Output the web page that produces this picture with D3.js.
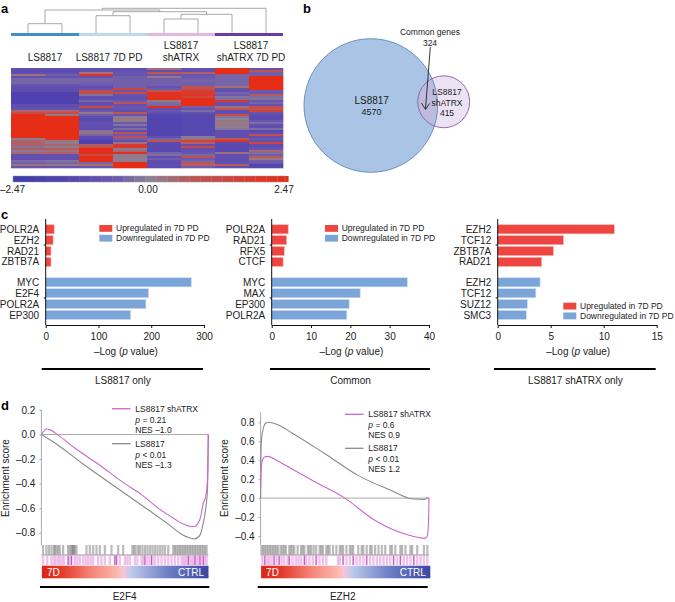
<!DOCTYPE html>
<html>
<head>
<meta charset="utf-8">
<style>
    body { margin: 0; background: #fff; }
    svg { display: block; }
    text { font-family: "Liberation Sans", Arial, sans-serif; fill: #222; }
</style>
<script src="https://cdn.jsdelivr.net/npm/d3@7"></script>
</head>
<body>
<svg id="chart" width="675" height="602"></svg>
<script>
// panel a: heatmap columns, top to bottom
const heatCol1 = [-1,-1.2,-1,0.3,-0.9,-0.4,-0.4,-0.4,-0.8,-1,-1,-1,-1.6,-1.6,-1.6,-1.6,-1.6,-1.6,-1.1,-1.1,-0.8,0.6,1.2,2.47,2.47,2.47,2.47,2.47,2.47,2.47,2.47,2.47,2.47,2.47,2.47,0.1,0.5,0.6,0.6,-0.2,0.7,-0.1,0.5,-1,-1,-1,-0.3,-0.5,0.3,-0.8];
const heatCol2 = [-1,-1.2,-1,-0.5,-0.9,-0.4,-0.4,-0.4,-0.8,-1,-1,-1,-1.6,-1.6,-1.6,-1.6,-1.6,-1.6,-1.1,-1.1,-0.8,0.6,1,0.2,2.47,2.47,2.47,2.47,2.47,2.47,2.47,2.47,2.47,2.47,2.47,2.2,0.2,0.1,0.5,0.1,0.7,0.3,0.6,-0.9,-1,-1,-0.2,-0.4,0.2,-0.8];
const heatCol3 = [-1,-0.9,0.3,2.2,-0.9,-0.4,-0.4,-0.5,-0.6,-1,-0.8,1.2,1,-0.2,-1,-1.1,-0.4,-1,-0.9,1.4,-1,-0.6,0.2,-0.5,-1,-1.3,-1.2,-0.9,-1,-1,-1.1,-0.2,0.3,-0.4,-1.2,-1.3,-1.6,-1.6,0.7,0.9,2.47,2.47,2.47,1.2,2.47,2.47,2.47,-0.4,0.4,-0.7];
const heatCol4 = [-1.1,-0.9,-0.8,-0.8,-0.5,-0.5,-0.5,-0.5,-0.5,-0.5,1.5,-0.7,1.3,-0.8,-0.9,-0.9,-0.6,0.8,-0.9,-0.7,-0.8,-1,0.9,-0.8,-0.1,0.2,0.1,-0.6,-0.2,-0.9,-0.3,-1,0.9,-0.6,1,-0.5,-0.9,0.3,2,2,-0.1,0.5,2.4,-0.1,0.1,0.1,0.1,2.47,2.47,2.47];
const heatCol5 = [0.4,-1,0.8,-0.8,0.2,-0.5,-0.5,-0.5,-0.5,-0.9,-0.6,0.9,2.2,2.2,2.3,2.3,0.2,-0.3,-0.4,2.47,-1,-0.7,-1.1,-1.5,-1.5,-1.5,-1.5,-1.5,-1.5,-1.5,-1.5,-1.5,-1.5,-1.5,-0.9,-0.4,0.9,-1.2,-1.3,-1.3,-1.3,-1.3,-0.4,-0.3,-1,-0.5,-1.1,-1.2,-1,-1.2];
const heatCol6 = [-0.9,-1,0.6,-0.7,-0.6,-0.5,-0.4,-0.5,-0.5,0.9,1,1.8,2,2,1.5,2.47,2.47,2.47,2.47,-0.5,-0.8,-0.3,-0.9,-1.3,-1.3,-1.3,-1.3,-1.3,-1.3,-1.3,-1.3,-1.3,-1.3,-1.3,-0.1,0.3,1.6,0.6,-1,1.3,-1,-0.9,-0.7,-0.4,1,-0.6,-0.4,0.8,0.6,-0.5];
const heatCol7 = [2.47,2.47,2.47,-0.4,-0.4,-0.4,-0.4,-0.4,-0.4,0.4,-0.9,-1,-0.4,-0.6,-0.2,-0.3,2.1,-0.9,-0.9,0.3,0.8,-1,-1,1.2,-0.2,0,0.2,0.1,0.2,0.1,-0.2,-1.1,-1,-1,-0.9,0.8,2.2,-1.2,-1.3,-1.3,-1.3,-1.3,0.3,-1.1,-0.9,-1,-1.1,-1,0.7,-1];
const heatCol8 = [-0.9,0.9,-0.5,-0.5,2.47,2.47,2.47,2.47,2.47,2.47,2.47,-0.6,-0.7,0.7,-0.3,-0.2,-0.7,-0.4,-0.9,1.2,0.9,1.7,-0.8,-1.1,-1.2,-1.2,-0.7,-0.3,-0.9,-1,-0.3,-1.3,-1.1,1,-1,-0.7,-0.9,1.5,-1.1,-1,-0.8,0.5,-0.3,-0.5,0.7,0.2,-0.5,-0.6,-1.5,-1.3];
const heatColumns = [heatCol1, heatCol2, heatCol3, heatCol4, heatCol5, heatCol6, heatCol7, heatCol8];

const heatGroups = ["g1", "g2", "g3", "g4"];
const groupColors = ["#3f8fc6", "#bcd9ee", "#e6b6e0", "#6a3aa6"];

// dendrogram merges: [left node, right node, height]; nodes 0-7 are the columns
const dendroMerges = [
    [0, 1, 9.3],
    [2, 3, 17.3],
    [4, 5, 14],
    [10, 6, 18.7],
    [9, 11, 21.3],
    [8, 12, 23],
    [13, 7, 24.7],
];

// panel b
const vennOnlyLS = 4570;
const vennOnlyShATRX = 415;
const vennCommon = 324;

// panel c
const panel1UpNames = ["POLR2A", "EZH2", "RAD21", "ZBTB7A"];
const panel1UpValues = [16, 14, 10, 10];
const panel1DownNames = ["MYC", "E2F4", "POLR2A", "EP300"];
const panel1DownValues = [276, 195, 190, 161];
const panel1Ticks = [0, 100, 200, 300];

const panel2UpNames = ["POLR2A", "RAD21", "RFX5", "CTCF"];
const panel2UpValues = [4.2, 3.8, 3.2, 2.9];
const panel2DownNames = ["MYC", "MAX", "EP300", "POLR2A"];
const panel2DownValues = [34.5, 22.5, 19.7, 19.1];
const panel2Ticks = [0, 10, 20, 30, 40];

const panel3UpNames = ["EZH2", "TCF12", "ZBTB7A", "RAD21"];
const panel3UpValues = [11, 6.2, 5.25, 4.15];
const panel3DownNames = ["EZH2", "TCF12", "SUZ12", "SMC3"];
const panel3DownValues = [4, 3.6, 2.8, 2.7];
const panel3Ticks = [0, 5, 10, 15];

// panel d: [rank fraction, enrichment score]
const e2f4Pink = [[0,0],[0.016,0.03],[0.032,0.047],[0.05,0.04],[0.1,-0.005],[0.2,-0.11],[0.35,-0.25],[0.5,-0.4],[0.6,-0.49],[0.7,-0.6],[0.8,-0.69],[0.85,-0.73],[0.9,-0.75],[0.915,-0.75],[0.95,-0.69],[0.97,-0.56],[0.985,-0.5],[0.992,-0.43],[0.997,-0.3],[1,0]];
const e2f4Grey = [[0,0],[0.1,-0.087],[0.25,-0.24],[0.5,-0.48],[0.75,-0.72],[0.85,-0.82],[0.92,-0.85],[0.95,-0.82],[0.97,-0.72],[0.985,-0.6],[0.995,-0.45],[1,0]];
const ezh2Pink = [[0,0.1],[0.002,0.27],[0.008,0.38],[0.02,0.43],[0.04,0.44],[0.105,0.39],[0.184,0.31],[0.33,0.165],[0.5,0],[0.68,-0.237],[0.877,-0.39],[0.976,-0.425],[0.99,-0.4],[0.996,-0.3],[1,0]];
const ezh2Grey = [[0,0],[0.002,0.45],[0.006,0.63],[0.012,0.7],[0.03,0.79],[0.046,0.8],[0.095,0.78],[0.184,0.69],[0.38,0.47],[0.578,0.24],[0.776,0.08],[0.895,-0.007],[0.974,-0.014],[0.99,0.004],[1,0]];

const e2f4GreyHits = [0.01,0.03,0.045,0.06,0.075,0.08,0.09,0.1,0.11,0.13,0.16,0.17,0.18,0.185,0.19,0.195,0.2,0.21,0.27,0.29,0.31,0.33,0.35,0.38,0.42,0.46,0.49,0.545,0.555,0.565,0.58,0.59,0.605,0.62,0.635,0.65,0.665,0.68,0.695,0.71,0.725,0.74,0.76,0.79,0.8,0.81,0.82,0.83,0.84,0.85,0.86,0.87,0.88,0.89,0.9,0.91,0.92,0.93,0.94,0.95,0.96,0.97,0.98,0.99];
const e2f4PinkHits = [0.01,0.035,0.06,0.075,0.085,0.1,0.11,0.125,0.135,0.16,0.17,0.18,0.2,0.215,0.23,0.25,0.265,0.28,0.295,0.31,0.34,0.36,0.38,0.41,0.44,0.45,0.47,0.5,0.515,0.53,0.56,0.575,0.6,0.61,0.62,0.635,0.65,0.665,0.68,0.7,0.72,0.74,0.76,0.78,0.8,0.82,0.84,0.85,0.86,0.87,0.88,0.89,0.9,0.91,0.92,0.93,0.94,0.95,0.96,0.97,0.98,0.99];
const e2f4PinkStrong = [0.16,0.18,0.44,0.45,0.62,0.66,0.88,0.92,0.95,0.97];
const ezh2GreyHits = [0.005,0.015,0.025,0.035,0.045,0.055,0.065,0.075,0.085,0.095,0.105,0.12,0.13,0.14,0.15,0.17,0.18,0.19,0.2,0.22,0.24,0.25,0.26,0.28,0.29,0.3,0.315,0.33,0.35,0.36,0.37,0.39,0.4,0.41,0.43,0.45,0.47,0.48,0.49,0.51,0.53,0.54,0.55,0.58,0.6,0.61,0.63,0.65,0.66,0.68,0.7,0.72,0.74,0.77,0.78,0.8,0.83,0.84,0.86,0.89,0.9,0.93,0.97,0.99];
const ezh2PinkHits = [0.01,0.025,0.04,0.05,0.065,0.08,0.095,0.11,0.125,0.14,0.16,0.17,0.19,0.21,0.225,0.24,0.26,0.27,0.29,0.31,0.33,0.35,0.37,0.39,0.46,0.47,0.49,0.51,0.53,0.55,0.57,0.59,0.61,0.63,0.65,0.67,0.69,0.71,0.73,0.75,0.77,0.79,0.81,0.83,0.85,0.87,0.89,0.91,0.93,0.95,0.97,0.99];
const ezh2PinkStrong = [0.025,0.08,0.11,0.17,0.26,0.33,0.49,0.55,0.63,0.79,0.83,0.91];

const rankGradientOffsets = [0, 0.12, 0.3, 0.45, 0.49, 0.54, 0.75, 1];
const rankGradientColors = ["#dd2418", "#e33a2a", "#f4867a", "#fdb6aa", "#f5c6dc", "#bcc9ec", "#6f80c6", "#3a46a4"];

const upColor = "#ee4540";
const downColor = "#7ba4d8";
const pinkLine = "#c967cc";
const greyLine = "#8a8a8a";

const svg = d3.select("#chart");
const defs = svg.append("defs");

const addText = (x, y, str, opts = {}) =>
    svg.append("text")
        .attr("x", x)
        .attr("y", y)
        .attr("text-anchor", opts.anchor || "middle")
        .attr("font-size", opts.size || 10)
        .attr("font-weight", opts.weight || null)
        .style("fill", opts.fill || null)
        .text(str);

// "p = 0.21" style lines with the p in italics
const addPText = (x, y, rest, size) => {
    const t = svg.append("text").attr("x", x).attr("y", y).attr("font-size", size);
    t.append("tspan").attr("font-style", "italic").text("p");
    t.append("tspan").text(rest);
};

[["a", 1, 13], ["b", 303, 13], ["c", 1, 219], ["d", 1, 410]].forEach(([s, x, y]) =>
    addText(x, y, s, { anchor: "start", size: 13, weight: "bold" }).style("fill", "#000")
);

// ---------- panel a ----------
const heatX = d3.scaleBand().domain(d3.range(heatColumns.length)).range([11, 283]);
const heatY = d3.scaleBand().domain(d3.range(heatCol1.length)).range([68, 168]);
const heatColor = d3.scaleLinear()
    .domain([-2.47, -1.5, -0.6, 0, 0.8, 2.47])
    .range(["#3c3ca8", "#5244b0", "#6c58b0", "#8b8295", "#bd5555", "#e62d18"]);

defs.append("filter").attr("id", "soften")
    .attr("x", 0).attr("y", 0).attr("width", 1).attr("height", 1)
    .append("feGaussianBlur").attr("stdDeviation", 0.4);

const heatLayer = svg.append("g").attr("filter", "url(#soften)");
heatColumns.forEach((col, c) => {
    heatLayer.append("g")
        .selectAll("rect")
        .data(col)
        .enter()
        .append("rect")
        .attr("x", heatX(c))
        .attr("y", (d, r) => heatY(r))
        .attr("width", heatX.bandwidth() + 0.3)
        .attr("height", heatY.bandwidth() + 0.3)
        .attr("fill", (d) => heatColor(d));
});

const groupX = d3.scaleBand().domain(heatGroups).range([11, 283]);
svg.append("g")
    .selectAll("rect")
    .data(heatGroups)
    .enter()
    .append("rect")
    .attr("x", (d) => groupX(d))
    .attr("y", 33)
    .attr("width", groupX.bandwidth())
    .attr("height", 3)
    .attr("fill", (d, i) => groupColors[i]);

// dendrogram
const dendroY = d3.scaleLinear().domain([0, 25]).range([33, 8]);
const dendroNodes = d3.range(heatColumns.length).map((i) => ({
    x: heatX(i) + heatX.bandwidth() / 2,
    h: 0,
}));
dendroMerges.forEach(([a, b, h]) => {
    const l = dendroNodes[a];
    const r = dendroNodes[b];
    svg.append("path")
        .attr("d", `M${l.x},${dendroY(l.h)}V${dendroY(h)}H${r.x}V${dendroY(r.h)}`)
        .attr("fill", "none")
        .attr("stroke", "#a8a8a8")
        .attr("stroke-width", 1);
    dendroNodes.push({ x: (l.x + r.x) / 2, h: h });
});

addText(45, 61, "LS8817");
addText(109, 61, "LS8817 7D PD");
addText(181, 49, "LS8817");
addText(181, 61, "shATRX");
addText(251, 49, "LS8817");
addText(251, 61, "shATRX 7D PD");

// colour bar
const barScale = d3.scaleLinear().domain([-2.47, 2.47]).range([13, 285]);
const barStops = d3.range(-2.47, 2.47, 0.2);
svg.append("g")
    .selectAll("rect")
    .data(barStops)
    .enter()
    .append("rect")
    .attr("x", (d) => barScale(d))
    .attr("y", 176)
    .attr("width", barScale(0.2) - barScale(0) + 0.3)
    .attr("height", 6)
    .attr("fill", (d) => heatColor(d + 0.1));
svg.append("rect")
    .attr("x", 13).attr("y", 176).attr("width", 272).attr("height", 6)
    .attr("fill", "none").attr("stroke", "#999").attr("stroke-width", 0.5);
addText(12.5, 193, "–2.47");
addText(148, 193, "0.00");
addText(284, 193, "2.47");

// ---------- panel b ----------
const vennR = d3.scaleSqrt().domain([0, vennOnlyLS + vennCommon]).range([0, 66.8]);
const bigR = vennR(vennOnlyLS + vennCommon);
const smallR = vennR(vennOnlyShATRX + vennCommon);

defs.append("clipPath").attr("id", "bigClip")
    .append("circle").attr("cx", 370.8).attr("cy", 105.5).attr("r", bigR);

svg.append("circle").attr("cx", 370.8).attr("cy", 105.5).attr("r", bigR).attr("fill", "#a9c4e4");
svg.append("circle").attr("cx", 443.7).attr("cy", 101.8).attr("r", smallR).attr("fill", "#ebe2f3");
svg.append("circle").attr("cx", 443.7).attr("cy", 101.8).attr("r", smallR)
    .attr("fill", "#bdbcdf").attr("clip-path", "url(#bigClip)");
svg.append("circle").attr("cx", 370.8).attr("cy", 105.5).attr("r", bigR)
    .attr("fill", "none").attr("stroke", "#5f88b8").attr("stroke-width", 0.9);
svg.append("circle").attr("cx", 443.7).attr("cy", 101.8).attr("r", smallR)
    .attr("fill", "none").attr("stroke", "#8a5a9f").attr("stroke-width", 0.9);

addText(371.7, 104, "LS8817");
addText(371.5, 114.5, String(vennOnlyLS), { size: 9 });
addText(447, 95, "LS8817", { size: 8.5 });
addText(447, 105.5, "shATRX", { size: 8.5 });
addText(447, 115.5, String(vennOnlyShATRX), { size: 8.5 });
addText(430, 35, "Common genes", { size: 8.5 });
addText(430, 45.5, String(vennCommon), { size: 8.5 });

svg.append("path")
    .attr("d", "M430.3,47L425.5,109M421.5,103L425.5,109.5L429.5,103.5")
    .attr("fill", "none")
    .attr("stroke", "#222")
    .attr("stroke-width", 0.9);

// ---------- panel c ----------
const drawBarPanel = (cfg) => {
    const x = d3.scaleLinear().domain([0, cfg.ticks[cfg.ticks.length - 1]]).range([cfg.x0, cfg.x1]);
    const yUp = d3.scaleBand().domain(d3.range(4)).range([223, 268.2]).padding(0.16);
    const yDown = d3.scaleBand().domain(d3.range(4)).range([276, 321.3]).padding(0.16);

    [[cfg.upValues, cfg.upNames, yUp, upColor, "#f9b8b0"], [cfg.downValues, cfg.downNames, yDown, downColor, "#cfe0f2"]].forEach(
        ([values, names, y, color, edge]) => {
            svg.append("g")
                .selectAll("rect")
                .data(values)
                .enter()
                .append("rect")
                .attr("x", x(0))
                .attr("y", (d, i) => y(i))
                .attr("width", (d) => x(d) - x(0))
                .attr("height", y.bandwidth())
                .attr("fill", color)
                .attr("stroke", edge)
                .attr("stroke-width", 0.6);

            names.forEach((n, i) =>
                addText(cfg.x0 - 6.5, y(i) + y.bandwidth() / 2 + 3.6, n, { anchor: "end" })
            );

            // one short tick on the left of each group
            svg.append("line")
                .attr("x1", cfg.x0 - 2).attr("x2", cfg.x0)
                .attr("y1", y.range()[0] + 22).attr("y2", y.range()[0] + 22)
                .attr("stroke", "#111");
        }
    );

    const axis = svg.append("g")
        .attr("transform", "translate(0,325)")
        .call(d3.axisBottom(x).tickValues(cfg.ticks).tickSize(3).tickSizeOuter(0));
    axis.selectAll("text").attr("font-size", 10).attr("font-family", null).attr("dy", null).attr("y", 14.5);
    axis.selectAll("line, path").attr("stroke", "#111");
    axis.attr("font-family", null);

    svg.append("line")
        .attr("x1", cfg.x0).attr("x2", cfg.x0)
        .attr("y1", 219).attr("y2", 325)
        .attr("stroke", "#111");

    const mid = (cfg.x0 + cfg.x1) / 2;
    const title = svg.append("text")
        .attr("x", mid + 1)
        .attr("y", 354.5)
        .attr("text-anchor", "middle")
        .attr("font-size", 10);
    title.append("tspan").text("–Log (");
    title.append("tspan").attr("font-style", "italic").text("p");
    title.append("tspan").text(" value)");

    svg.append("rect")
        .attr("x", cfg.barX0)
        .attr("y", 368)
        .attr("width", cfg.barX1 - cfg.barX0)
        .attr("height", 2)
        .attr("fill", "#000");
    addText((cfg.barX0 + cfg.barX1) / 2 + 0.5, 383.5, cfg.name);

    // legend
    [["Upregulated in 7D PD", upColor], ["Downregulated in 7D PD", downColor]].forEach(([label, color], i) => {
        svg.append("rect")
            .attr("x", cfg.legendX)
            .attr("y", cfg.legendY + i * 9.8)
            .attr("width", 13)
            .attr("height", 6.8)
            .attr("fill", color);
        addText(cfg.legendX + 16.7, cfg.legendY + i * 9.8 + 6.3, label, { anchor: "start", size: 8.5 });
    });
};

drawBarPanel({
    name: "LS8817 only", upNames: panel1UpNames, upValues: panel1UpValues,
    downNames: panel1DownNames, downValues: panel1DownValues, ticks: panel1Ticks,
    x0: 45.7, x1: 204, barX0: 41.7, barX1: 203, legendX: 99.3, legendY: 225,
});
drawBarPanel({
    name: "Common", upNames: panel2UpNames, upValues: panel2UpValues,
    downNames: panel2DownNames, downValues: panel2DownValues, ticks: panel2Ticks,
    x0: 271.7, x1: 429, barX0: 270, barX1: 430, legendX: 325, legendY: 225,
});
drawBarPanel({
    name: "LS8817 shATRX only", upNames: panel3UpNames, upValues: panel3UpValues,
    downNames: panel3DownNames, downValues: panel3DownValues, ticks: panel3Ticks,
    x0: 497.7, x1: 656.7, barX0: 494, barX1: 655.7, legendX: 563.3, legendY: 302.7,
});

// ---------- panel d ----------
const gradient = defs.append("linearGradient").attr("id", "rankGradient");
rankGradientOffsets.forEach((o, i) =>
    gradient.append("stop").attr("offset", o).attr("stop-color", rankGradientColors[i])
);

const drawEnrichment = (cfg) => {
    const x = d3.scaleLinear().domain([0, 1]).range([cfg.x0, cfg.x1]);
    const y = d3.scaleLinear().domain(cfg.yDomain).range(cfg.yRange);
    const line = d3.line()
        .x((d) => x(d[0]))
        .y((d) => y(d[1]))
        .curve(d3.curveMonotoneX);

    const axis = svg.append("g")
        .attr("transform", `translate(${cfg.x0},0)`)
        .call(
            d3.axisLeft(y)
                .tickValues(cfg.ticks)
                .tickSize(2)
                .tickSizeOuter(0)
                .tickFormat((d) => d3.format(".1f")(d).replace(/[-−]/, "–"))
        );
    axis.selectAll("text").attr("font-size", 10).attr("x", -cfg.tickGap);
    axis.selectAll("line").attr("stroke", "#aaa");
    axis.select("path").remove();
    axis.attr("font-family", null);

    svg.append("line")
        .attr("x1", cfg.x0).attr("x2", cfg.x0)
        .attr("y1", cfg.axisTop).attr("y2", 545)
        .attr("stroke", "#aaa");
    svg.append("line")
        .attr("x1", cfg.x0).attr("x2", cfg.x1)
        .attr("y1", y(0)).attr("y2", y(0))
        .attr("stroke", "#aaa");

    svg.append("path").attr("d", line(cfg.grey)).attr("fill", "none").attr("stroke", greyLine).attr("stroke-width", 1.1);
    svg.append("path").attr("d", line(cfg.pink)).attr("fill", "none").attr("stroke", pinkLine).attr("stroke-width", 1.1);

    // hit rugs
    svg.append("g")
        .selectAll("line")
        .data(cfg.greyHits)
        .enter()
        .append("line")
        .attr("x1", (d) => x(d)).attr("x2", (d) => x(d))
        .attr("y1", 545).attr("y2", 554.5)
        .attr("stroke", "#777")
        .attr("stroke-width", 2.2)
        .attr("stroke-opacity", 0.5);
    svg.append("line")
        .attr("x1", cfg.x0).attr("x2", cfg.x1)
        .attr("y1", 555).attr("y2", 555)
        .attr("stroke", "#666")
        .attr("stroke-width", 0.7);
    svg.append("g")
        .selectAll("line")
        .data(cfg.pinkHits)
        .enter()
        .append("line")
        .attr("x1", (d) => x(d)).attr("x2", (d) => x(d))
        .attr("y1", 555.5).attr("y2", 565)
        .attr("stroke", "#e9a8e2")
        .attr("stroke-width", 2.4)
        .attr("stroke-opacity", 0.7);
    svg.append("g")
        .selectAll("line")
        .data(cfg.pinkStrong)
        .enter()
        .append("line")
        .attr("x1", (d) => x(d)).attr("x2", (d) => x(d))
        .attr("y1", 555.5).attr("y2", 565)
        .attr("stroke", "#bf55c0")
        .attr("stroke-width", 1);

    // ranked list strip
    svg.append("rect")
        .attr("x", cfg.x0 + 0.5)
        .attr("y", 565.7)
        .attr("width", cfg.stripRight - cfg.x0 - 0.5)
        .attr("height", 12.6)
        .attr("fill", "url(#rankGradient)");
    addText(cfg.x0 + 5.5, 575.7, "7D", { anchor: "start", fill: "#fff" });
    addText(cfg.stripRight - 4.5, 575.7, "CTRL", { anchor: "end", fill: "#fff" });

    svg.append("rect")
        .attr("x", cfg.barX0)
        .attr("y", 586)
        .attr("width", cfg.barX1 - cfg.barX0)
        .attr("height", 2)
        .attr("fill", "#000");
    addText((cfg.barX0 + cfg.barX1) / 2, 599.5, cfg.name);

    // legend
    const lx = cfg.legendX;
    svg.append("line").attr("x1", lx).attr("x2", lx + 18.5).attr("y1", cfg.legendY[0]).attr("y2", cfg.legendY[0])
        .attr("stroke", pinkLine).attr("stroke-width", 1.3);
    addText(lx + 23.3, cfg.legendY[0] + 3, "LS8817 shATRX", { anchor: "start", size: 8.5 });
    addPText(lx + 23.3, cfg.legendY[0] + 14, cfg.pinkP, 8.5);
    addText(lx + 23.3, cfg.legendY[0] + 24, cfg.pinkNes, { anchor: "start", size: 8.5 });

    svg.append("line").attr("x1", lx).attr("x2", lx + 18.5).attr("y1", cfg.legendY[1]).attr("y2", cfg.legendY[1])
        .attr("stroke", greyLine).attr("stroke-width", 1.3);
    addText(lx + 23.3, cfg.legendY[1] + 3, "LS8817", { anchor: "start", size: 8.5 });
    addPText(lx + 23.3, cfg.legendY[1] + 14, " < 0.01", 8.5);
    addText(lx + 23.3, cfg.legendY[1] + 24, cfg.greyNes, { anchor: "start", size: 8.5 });
};

drawEnrichment({
    name: "E2F4", x0: 41.4, x1: 208.3, stripRight: 208.5, axisTop: 409.5,
    yDomain: [0.2, -0.8], yRange: [410, 532.7], ticks: [0.2, 0, -0.2, -0.4, -0.6, -0.8], tickGap: 6,
    pink: e2f4Pink, grey: e2f4Grey, greyHits: e2f4GreyHits, pinkHits: e2f4PinkHits, pinkStrong: e2f4PinkStrong,
    barX0: 40, barX1: 209.3, legendX: 112, legendY: [408.7, 443.7],
    pinkP: " = 0.21", pinkNes: "NES –1.0", greyNes: "NES –1.3",
});
drawEnrichment({
    name: "EZH2", x0: 260.6, x1: 429, stripRight: 430.3, axisTop: 412,
    yDomain: [0.8, -0.4], yRange: [422.3, 536], ticks: [0.8, 0.6, 0.4, 0.2, 0, -0.2, -0.4], tickGap: 6,
    pink: ezh2Pink, grey: ezh2Grey, greyHits: ezh2GreyHits, pinkHits: ezh2PinkHits, pinkStrong: ezh2PinkStrong,
    barX0: 257.7, barX1: 427.7, legendX: 345, legendY: [414.3, 448.3],
    pinkP: " = 0.6", pinkNes: "NES 0.9", greyNes: "NES 1.2",
});

svg.append("text")
    .attr("transform", "translate(8.5,478) rotate(-90)")
    .attr("text-anchor", "middle")
    .attr("font-size", 10)
    .text("Enrichment score");
svg.append("text")
    .attr("transform", "translate(227.5,478) rotate(-90)")
    .attr("text-anchor", "middle")
    .attr("font-size", 10)
    .text("Enrichment score");
</script>
</body>
</html>
